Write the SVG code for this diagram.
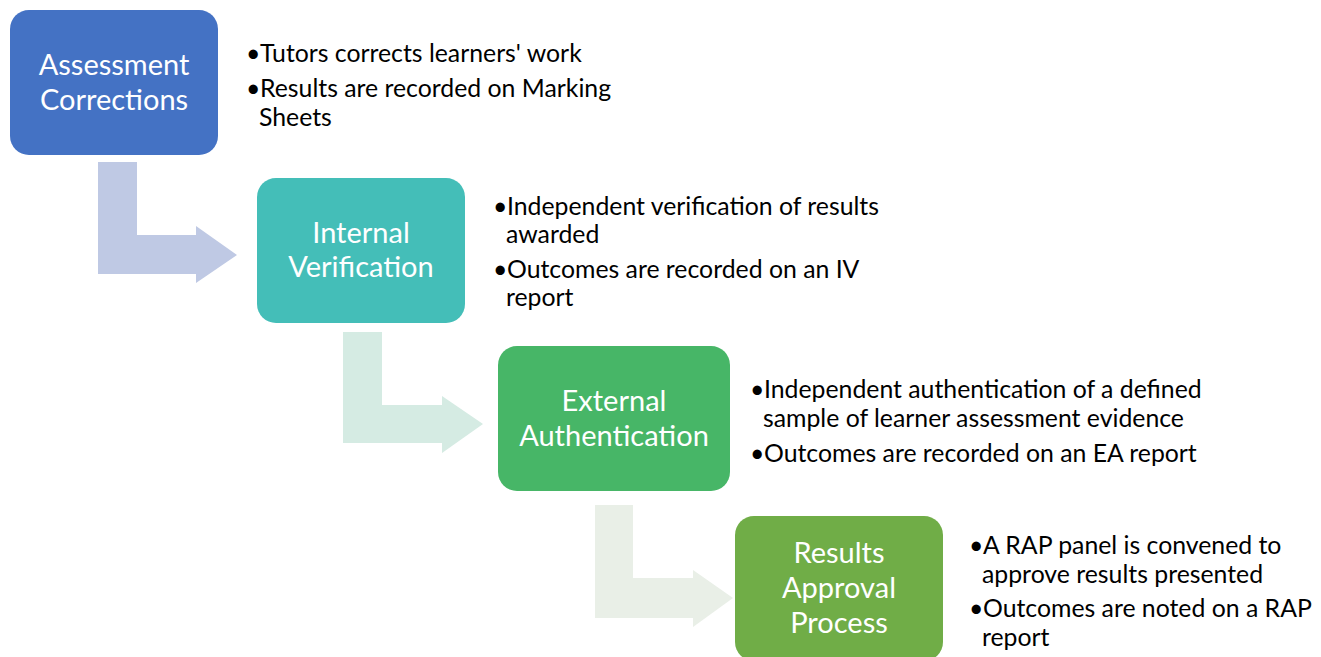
<svg xmlns="http://www.w3.org/2000/svg" width="1321" height="657" viewBox="0 0 1321 657">
<style>
.box{stroke:none}
.lbl{font-family:Lato,"Liberation Sans",sans-serif;font-size:29px;fill:#ffffff;text-anchor:middle}
.bul{font-family:Lato,"Liberation Sans",sans-serif;font-size:24.8px;fill:#000000}
</style>
<rect width="1321" height="657" fill="#ffffff"/>
<g id="connectors">
<path d="M98,162 H137 V235 H196 V226 L237,255 L196,283 V274 H98 Z" fill="#BFC9E4"/>
<path d="M343,332 H382 V405 H442 V396 L483,424 L442,453 V443 H343 Z" fill="#D5EBE3"/>
<path d="M595,505 H633 V578 H693 V570 L733,598 L693,627 V618 H595 Z" fill="#E9EFE7"/>
</g>
<g id="n1">
<rect class="box" x="10" y="10" width="208" height="145" rx="19" fill="#4472C4"/>
<text class="lbl" x="114" y="75">Assessment</text>
<text class="lbl" x="114" y="110">Corrections</text>
</g>
<g id="t1">
<text class="bul" x="246" y="62">•</text><text class="bul" x="260" y="62">Tutors corrects learners' work</text>
<text class="bul" x="246" y="97">•</text><text class="bul" x="260" y="97">Results are recorded on Marking</text>
<text class="bul" x="259" y="126">Sheets</text>
</g>
<g id="n2">
<rect class="box" x="257" y="178" width="208" height="145" rx="19" fill="#44BEB8"/>
<text class="lbl" x="361" y="243">Internal</text>
<text class="lbl" x="361" y="277">Verification</text>
</g>
<g id="t2">
<text class="bul" x="493" y="215">•</text><text class="bul" x="507" y="215">Independent verification of results</text>
<text class="bul" x="506" y="243">awarded</text>
<text class="bul" x="493" y="278">•</text><text class="bul" x="507" y="278">Outcomes are recorded on an IV</text>
<text class="bul" x="506" y="306">report</text>
</g>
<g id="n3">
<rect class="box" x="498" y="346" width="232" height="145" rx="19" fill="#47B667"/>
<text class="lbl" x="614" y="411">External</text>
<text class="lbl" x="614" y="446">Authentication</text>
</g>
<g id="t3">
<text class="bul" x="750" y="398">•</text><text class="bul" x="764" y="398">Independent authentication of a defined</text>
<text class="bul" x="763" y="427">sample of learner assessment evidence</text>
<text class="bul" x="750" y="462">•</text><text class="bul" x="764" y="462">Outcomes are recorded on an EA report</text>
</g>
<g id="n4">
<rect class="box" x="735" y="516" width="208" height="145" rx="19" fill="#70AD47"/>
<text class="lbl" x="839" y="563">Results</text>
<text class="lbl" x="839" y="598">Approval</text>
<text class="lbl" x="839" y="633">Process</text>
</g>
<g id="t4">
<text class="bul" x="969" y="554">•</text><text class="bul" x="983" y="554">A RAP panel is convened to</text>
<text class="bul" x="982" y="583">approve results presented</text>
<text class="bul" x="969" y="617">•</text><text class="bul" x="983" y="617">Outcomes are noted on a RAP</text>
<text class="bul" x="982" y="646">report</text>
</g>
</svg>
